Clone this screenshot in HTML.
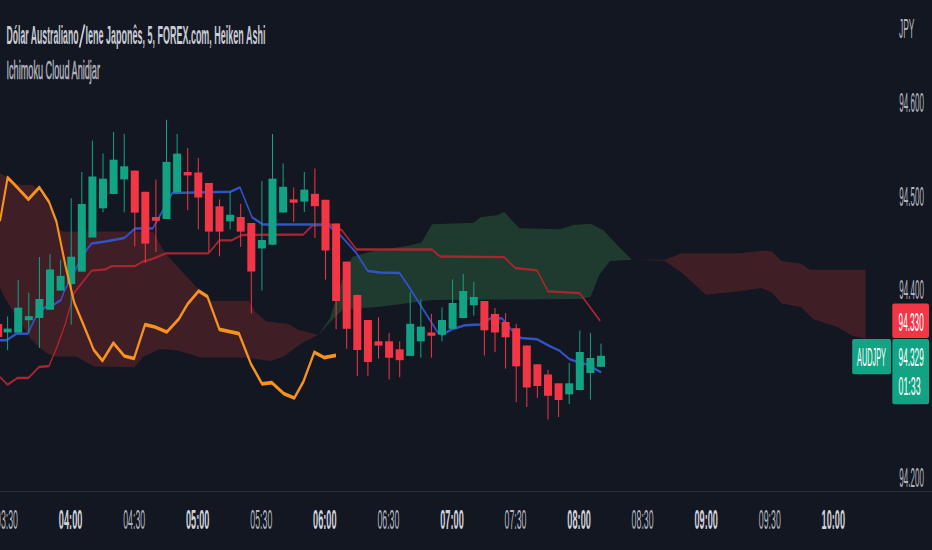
<!DOCTYPE html>
<html><head><meta charset="utf-8"><style>
html,body{margin:0;padding:0;background:#131722;width:932px;height:550px;overflow:hidden}
svg{display:block}
</style></head><body>
<svg width="932" height="550" viewBox="0 0 932 550">
<rect width="932" height="550" fill="#131722"/>
<polygon points="0.0,173.0 8.0,178.0 17.0,184.0 22.0,185.0 33.0,185.0 43.6,197.0 52.3,212.5 59.0,230.0 63.2,231.6 152.7,231.6 165.8,254.0 196.3,287.0 203.0,291.6 211.8,301.0 249.0,301.0 255.4,311.8 266.3,321.6 288.0,323.8 299.0,330.0 318.5,335.0 318.5,335.0 312.0,338.0 301.2,343.4 283.8,356.5 270.7,360.9 244.5,357.6 222.7,357.6 200.0,357.4 190.0,354.0 174.5,350.0 160.0,349.0 143.6,356.4 134.5,367.3 94.5,366.4 85.5,361.8 76.4,356.4 54.5,356.4 47.0,353.6 38.0,346.0 31.0,339.0 20.0,322.0 11.0,308.0 5.5,299.0 0.0,288.0" fill="#3f1e26"/>
<polygon points="318.5,335.0 330.0,318.0 342.0,280.0 352.0,257.0 371.0,251.5 409.2,245.6 421.5,242.6 432.0,224.3 473.8,222.7 480.3,217.3 497.8,215.0 504.3,211.8 510.9,219.4 519.6,228.2 560.0,229.3 573.0,224.9 590.5,223.8 603.6,230.3 616.7,244.5 632.0,259.8 632.0,259.8 610.0,260.9 599.3,275.0 590.5,296.9 580.0,299.0 432.3,300.0 380.0,306.7 342.7,309.6 329.6,322.7 318.5,335.0" fill="#1f3a2e"/>
<polygon points="632.0,259.8 664.7,259.8 682.0,253.2 740.0,253.2 762.7,250.5 771.4,251.4 781.9,261.0 801.0,263.6 809.8,269.7 865.5,269.7 865.5,338.5 851.7,335.8 837.7,327.1 813.3,319.3 801.0,307.0 781.9,303.6 771.4,292.2 761.0,287.9 740.0,291.3 706.0,294.7 682.0,272.9 664.7,261.0 632.0,259.8" fill="#3f1e26"/>
<g transform="scale(0.55,1)"><polyline points="0.00,377.0 13.82,384.7 31.64,378.0 51.64,378.0 70.91,367.0 89.09,366.0 103.09,347.6 118.91,323.6 134.55,293.0 166.36,270.7 191.64,269.4 203.64,266.2 245.45,266.2 257.82,262.0 277.64,258.9 301.45,253.4 379.09,253.4 398.91,240.3 420.73,240.3 440.55,235.0 551.64,234.5 567.27,225.7 601.09,224.3 621.82,230.4 648.36,249.5 785.45,249.5 800.00,256.5 916.91,257.2 936.73,268.0 976.36,270.3 996.36,291.4 1053.82,293.2 1091.45,321.0" fill="none" stroke="#a82630" stroke-width="2.3" stroke-linejoin="round"/></g>
<g transform="scale(0.55,1)"><polyline points="0.00,340.3 11.82,340.3 29.82,333.8 50.55,333.8 65.45,316.4 81.27,307.6 97.09,304.9 110.91,300.0 116.36,291.6 138.18,268.4 158.55,249.0 166.55,243.6 191.64,241.6 226.00,238.0 245.82,228.4 277.64,228.4 295.45,211.0 313.27,193.0 418.73,191.8 436.36,187.4 458.55,217.4 478.18,224.5 583.45,224.4 599.64,226.5 619.09,235.5 646.91,252.3 668.73,270.9 690.91,272.4 726.55,272.9 742.55,286.0 796.00,332.5 804.00,334.7 821.82,329.3 845.45,325.3 873.27,324.5 893.09,318.0 912.73,318.4 928.91,329.3 947.27,338.0 976.36,339.3 998.18,345.7 1016.91,350.6 1036.00,359.3 1045.45,361.0 1067.09,364.5 1093.09,372.3" fill="none" stroke="#3252c8" stroke-width="2.5" stroke-linejoin="round"/></g>
<rect x="-2.3" y="324.0" width="1" height="13.0" fill="#f23645"/>
<rect x="-5.8" y="324.0" width="8.0" height="13.0" fill="#f23645"/>
<rect x="7.1" y="316.4" width="1" height="33.8" fill="#12a384"/>
<rect x="3.6" y="328.6" width="8.0" height="3.8" fill="#12a384"/>
<rect x="17.7" y="280.0" width="1" height="52.7" fill="#12a384"/>
<rect x="14.2" y="307.7" width="8.0" height="25.0" fill="#12a384"/>
<rect x="28.3" y="292.7" width="1" height="40.2" fill="#12a384"/>
<rect x="24.8" y="316.2" width="8.0" height="4.0" fill="#12a384"/>
<rect x="38.9" y="257.0" width="1" height="91.0" fill="#12a384"/>
<rect x="35.4" y="299.0" width="8.0" height="19.0" fill="#12a384"/>
<rect x="49.5" y="254.3" width="1" height="55.4" fill="#12a384"/>
<rect x="46.0" y="269.5" width="8.0" height="40.2" fill="#12a384"/>
<rect x="60.1" y="259.8" width="1" height="30.8" fill="#12a384"/>
<rect x="56.6" y="275.9" width="8.0" height="14.7" fill="#12a384"/>
<rect x="70.7" y="198.3" width="1" height="126.2" fill="#12a384"/>
<rect x="67.2" y="256.7" width="8.0" height="27.4" fill="#12a384"/>
<rect x="81.3" y="172.0" width="1" height="99.6" fill="#12a384"/>
<rect x="77.8" y="204.0" width="8.0" height="67.6" fill="#12a384"/>
<rect x="91.9" y="140.5" width="1" height="97.0" fill="#12a384"/>
<rect x="88.4" y="176.5" width="8.0" height="61.0" fill="#12a384"/>
<rect x="102.5" y="153.6" width="1" height="58.6" fill="#12a384"/>
<rect x="99.0" y="178.7" width="8.0" height="29.6" fill="#12a384"/>
<rect x="113.1" y="131.8" width="1" height="62.2" fill="#12a384"/>
<rect x="109.6" y="159.7" width="8.0" height="34.3" fill="#12a384"/>
<rect x="123.7" y="134.0" width="1" height="78.4" fill="#12a384"/>
<rect x="120.2" y="166.3" width="8.0" height="13.1" fill="#12a384"/>
<rect x="134.3" y="170.6" width="1" height="75.9" fill="#f23645"/>
<rect x="130.8" y="170.6" width="8.0" height="42.0" fill="#f23645"/>
<rect x="144.8" y="191.8" width="1" height="71.2" fill="#f23645"/>
<rect x="141.3" y="191.8" width="8.0" height="51.8" fill="#f23645"/>
<rect x="155.4" y="179.4" width="1" height="72.6" fill="#f23645"/>
<rect x="151.9" y="217.0" width="8.0" height="3.8" fill="#f23645"/>
<rect x="166.0" y="119.8" width="1" height="99.2" fill="#12a384"/>
<rect x="162.5" y="161.9" width="8.0" height="57.1" fill="#12a384"/>
<rect x="176.6" y="134.0" width="1" height="58.4" fill="#12a384"/>
<rect x="173.1" y="153.6" width="8.0" height="38.8" fill="#12a384"/>
<rect x="187.2" y="148.0" width="1" height="62.0" fill="#f23645"/>
<rect x="183.7" y="172.0" width="8.0" height="3.4" fill="#f23645"/>
<rect x="197.8" y="158.0" width="1" height="71.4" fill="#f23645"/>
<rect x="194.3" y="172.5" width="8.0" height="25.0" fill="#f23645"/>
<rect x="208.4" y="183.0" width="1" height="69.3" fill="#f23645"/>
<rect x="204.9" y="183.0" width="8.0" height="48.6" fill="#f23645"/>
<rect x="219.0" y="199.4" width="1" height="56.9" fill="#f23645"/>
<rect x="215.5" y="206.3" width="8.0" height="25.3" fill="#f23645"/>
<rect x="229.6" y="191.8" width="1" height="37.6" fill="#12a384"/>
<rect x="226.1" y="214.8" width="8.0" height="6.5" fill="#12a384"/>
<rect x="240.2" y="203.8" width="1" height="43.1" fill="#f23645"/>
<rect x="236.7" y="217.0" width="8.0" height="14.6" fill="#f23645"/>
<rect x="250.8" y="223.0" width="1" height="90.4" fill="#f23645"/>
<rect x="247.3" y="223.0" width="8.0" height="48.5" fill="#f23645"/>
<rect x="261.4" y="180.9" width="1" height="109.6" fill="#12a384"/>
<rect x="257.9" y="240.0" width="8.0" height="8.4" fill="#12a384"/>
<rect x="272.0" y="134.0" width="1" height="110.7" fill="#12a384"/>
<rect x="268.5" y="178.7" width="8.0" height="66.0" fill="#12a384"/>
<rect x="282.6" y="163.4" width="1" height="49.1" fill="#12a384"/>
<rect x="279.1" y="186.8" width="8.0" height="25.7" fill="#12a384"/>
<rect x="293.2" y="187.4" width="1" height="34.4" fill="#f23645"/>
<rect x="289.7" y="199.4" width="8.0" height="3.3" fill="#f23645"/>
<rect x="303.8" y="172.0" width="1" height="40.0" fill="#12a384"/>
<rect x="300.3" y="189.6" width="8.0" height="12.0" fill="#12a384"/>
<rect x="314.4" y="168.5" width="1" height="69.5" fill="#f23645"/>
<rect x="310.9" y="193.8" width="8.0" height="12.4" fill="#f23645"/>
<rect x="325.0" y="199.8" width="1" height="79.8" fill="#f23645"/>
<rect x="321.5" y="199.8" width="8.0" height="50.7" fill="#f23645"/>
<rect x="335.6" y="223.5" width="1" height="105.8" fill="#f23645"/>
<rect x="332.1" y="223.5" width="8.0" height="77.5" fill="#f23645"/>
<rect x="346.2" y="261.6" width="1" height="87.3" fill="#f23645"/>
<rect x="342.7" y="261.6" width="8.0" height="67.2" fill="#f23645"/>
<rect x="356.8" y="294.9" width="1" height="81.3" fill="#f23645"/>
<rect x="353.3" y="294.9" width="8.0" height="55.1" fill="#f23645"/>
<rect x="367.4" y="320.0" width="1" height="56.2" fill="#f23645"/>
<rect x="363.9" y="320.0" width="8.0" height="42.0" fill="#f23645"/>
<rect x="378.0" y="317.3" width="1" height="41.4" fill="#f23645"/>
<rect x="374.5" y="341.3" width="8.0" height="4.3" fill="#f23645"/>
<rect x="388.6" y="333.0" width="1" height="46.4" fill="#f23645"/>
<rect x="385.1" y="341.3" width="8.0" height="16.5" fill="#f23645"/>
<rect x="399.2" y="341.3" width="1" height="35.9" fill="#f23645"/>
<rect x="395.7" y="349.3" width="8.0" height="10.9" fill="#f23645"/>
<rect x="409.7" y="292.3" width="1" height="63.6" fill="#12a384"/>
<rect x="406.2" y="323.8" width="8.0" height="32.1" fill="#12a384"/>
<rect x="420.3" y="299.5" width="1" height="58.1" fill="#12a384"/>
<rect x="416.8" y="326.6" width="8.0" height="14.7" fill="#12a384"/>
<rect x="430.9" y="314.0" width="1" height="43.6" fill="#f23645"/>
<rect x="427.4" y="332.5" width="8.0" height="3.3" fill="#f23645"/>
<rect x="441.5" y="307.4" width="1" height="33.9" fill="#12a384"/>
<rect x="438.0" y="320.0" width="8.0" height="14.7" fill="#12a384"/>
<rect x="452.1" y="279.4" width="1" height="49.4" fill="#12a384"/>
<rect x="448.6" y="303.0" width="8.0" height="25.8" fill="#12a384"/>
<rect x="462.7" y="274.0" width="1" height="44.0" fill="#12a384"/>
<rect x="459.2" y="291.0" width="8.0" height="27.0" fill="#12a384"/>
<rect x="473.3" y="281.6" width="1" height="34.1" fill="#12a384"/>
<rect x="469.8" y="297.0" width="8.0" height="8.3" fill="#12a384"/>
<rect x="483.9" y="301.0" width="1" height="54.4" fill="#f23645"/>
<rect x="480.4" y="301.0" width="8.0" height="29.3" fill="#f23645"/>
<rect x="494.5" y="308.0" width="1" height="44.2" fill="#f23645"/>
<rect x="491.0" y="314.0" width="8.0" height="18.5" fill="#f23645"/>
<rect x="505.1" y="313.0" width="1" height="55.7" fill="#f23645"/>
<rect x="501.6" y="322.0" width="8.0" height="15.3" fill="#f23645"/>
<rect x="515.7" y="323.8" width="1" height="78.2" fill="#f23645"/>
<rect x="512.2" y="328.2" width="8.0" height="38.1" fill="#f23645"/>
<rect x="526.3" y="345.5" width="1" height="61.5" fill="#f23645"/>
<rect x="522.8" y="345.5" width="8.0" height="42.0" fill="#f23645"/>
<rect x="536.9" y="364.3" width="1" height="33.7" fill="#f23645"/>
<rect x="533.4" y="364.3" width="8.0" height="21.7" fill="#f23645"/>
<rect x="547.5" y="369.8" width="1" height="49.7" fill="#f23645"/>
<rect x="544.0" y="374.5" width="8.0" height="21.3" fill="#f23645"/>
<rect x="558.1" y="383.3" width="1" height="33.7" fill="#f23645"/>
<rect x="554.6" y="383.3" width="8.0" height="16.7" fill="#f23645"/>
<rect x="568.7" y="363.0" width="1" height="41.0" fill="#12a384"/>
<rect x="565.2" y="383.3" width="8.0" height="11.0" fill="#12a384"/>
<rect x="579.3" y="330.5" width="1" height="59.5" fill="#12a384"/>
<rect x="575.8" y="352.0" width="8.0" height="38.0" fill="#12a384"/>
<rect x="589.9" y="333.0" width="1" height="66.6" fill="#12a384"/>
<rect x="586.4" y="358.0" width="8.0" height="15.0" fill="#12a384"/>
<rect x="600.5" y="343.6" width="1" height="23.2" fill="#12a384"/>
<rect x="597.0" y="355.8" width="8.0" height="11.0" fill="#12a384"/>
<g transform="scale(0.55,1)"><polyline points="0.00,221.0 13.82,177.6 25.45,184.0 51.64,199.4 71.45,187.4 89.09,202.0 102.73,221.8 118.91,265.4 134.91,302.5 150.91,323.6 170.55,350.0 186.36,360.7 206.18,343.0 226.00,356.0 243.64,358.5 263.64,324.7 281.82,327.0 303.27,332.0 325.09,319.0 341.09,304.0 361.27,291.0 377.09,296.5 398.91,329.3 434.55,333.6 456.36,364.0 476.36,383.8 494.18,382.7 516.00,393.6 535.09,398.0 551.64,381.6 571.45,352.2 589.09,357.6 610.91,355.4" fill="none" stroke="#f6931e" stroke-width="3.7" stroke-linejoin="round"/></g>
<rect x="0" y="491" width="932" height="1" fill="#2a2e39"/>
<text x="6.5" y="44.2" font-family="Liberation Sans, sans-serif" font-size="26.5" fill="#c9ccd4" text-anchor="start" font-weight="bold" textLength="72" lengthAdjust="spacingAndGlyphs">Dólar Australiano</text>
<line x1="79.6" y1="47.5" x2="84.6" y2="24.5" stroke="#c9ccd4" stroke-width="1.7"/>
<text x="85.6" y="44.2" font-family="Liberation Sans, sans-serif" font-size="26.5" fill="#c9ccd4" text-anchor="start" font-weight="bold" textLength="179.8" lengthAdjust="spacingAndGlyphs">Iene Japonês, 5, FOREX.com, Heiken Ashi</text>
<text x="6.5" y="79.3" font-family="Liberation Sans, sans-serif" font-size="26.5" fill="#b2b5be" text-anchor="start" font-weight="normal" textLength="93.5" lengthAdjust="spacingAndGlyphs" stroke="#b2b5be" stroke-width="0.6">Ichimoku Cloud Anidjar</text>
<text x="899.3" y="112.1" font-family="Liberation Sans, sans-serif" font-size="28" fill="#b2b5be" text-anchor="start" font-weight="normal" textLength="24.7" lengthAdjust="spacingAndGlyphs">94.600</text>
<text x="899.3" y="205.7799999999947" font-family="Liberation Sans, sans-serif" font-size="28" fill="#b2b5be" text-anchor="start" font-weight="normal" textLength="24.7" lengthAdjust="spacingAndGlyphs">94.500</text>
<text x="899.3" y="299.45999999998935" font-family="Liberation Sans, sans-serif" font-size="28" fill="#b2b5be" text-anchor="start" font-weight="normal" textLength="24.7" lengthAdjust="spacingAndGlyphs">94.400</text>
<text x="899.3" y="486.81999999999204" font-family="Liberation Sans, sans-serif" font-size="28" fill="#b2b5be" text-anchor="start" font-weight="normal" textLength="24.7" lengthAdjust="spacingAndGlyphs">94.200</text>
<text x="899" y="38" font-family="Liberation Sans, sans-serif" font-size="28" fill="#b2b5be" text-anchor="start" font-weight="normal" textLength="15.5" lengthAdjust="spacingAndGlyphs">JPY</text>
<text x="7.0" y="529.2" font-family="Liberation Sans, sans-serif" font-size="28" fill="#b2b5be" text-anchor="middle" font-weight="normal" textLength="22" lengthAdjust="spacingAndGlyphs">03:30</text>
<text x="70.6" y="529.2" font-family="Liberation Sans, sans-serif" font-size="28" fill="#d1d4dc" text-anchor="middle" font-weight="bold" textLength="23.5" lengthAdjust="spacingAndGlyphs">04:00</text>
<text x="134.2" y="529.2" font-family="Liberation Sans, sans-serif" font-size="28" fill="#b2b5be" text-anchor="middle" font-weight="normal" textLength="22" lengthAdjust="spacingAndGlyphs">04:30</text>
<text x="197.7" y="529.2" font-family="Liberation Sans, sans-serif" font-size="28" fill="#d1d4dc" text-anchor="middle" font-weight="bold" textLength="23.5" lengthAdjust="spacingAndGlyphs">05:00</text>
<text x="261.3" y="529.2" font-family="Liberation Sans, sans-serif" font-size="28" fill="#b2b5be" text-anchor="middle" font-weight="normal" textLength="22" lengthAdjust="spacingAndGlyphs">05:30</text>
<text x="324.8" y="529.2" font-family="Liberation Sans, sans-serif" font-size="28" fill="#d1d4dc" text-anchor="middle" font-weight="bold" textLength="23.5" lengthAdjust="spacingAndGlyphs">06:00</text>
<text x="388.4" y="529.2" font-family="Liberation Sans, sans-serif" font-size="28" fill="#b2b5be" text-anchor="middle" font-weight="normal" textLength="22" lengthAdjust="spacingAndGlyphs">06:30</text>
<text x="452.0" y="529.2" font-family="Liberation Sans, sans-serif" font-size="28" fill="#d1d4dc" text-anchor="middle" font-weight="bold" textLength="23.5" lengthAdjust="spacingAndGlyphs">07:00</text>
<text x="515.5" y="529.2" font-family="Liberation Sans, sans-serif" font-size="28" fill="#b2b5be" text-anchor="middle" font-weight="normal" textLength="22" lengthAdjust="spacingAndGlyphs">07:30</text>
<text x="579.1" y="529.2" font-family="Liberation Sans, sans-serif" font-size="28" fill="#d1d4dc" text-anchor="middle" font-weight="bold" textLength="23.5" lengthAdjust="spacingAndGlyphs">08:00</text>
<text x="642.6" y="529.2" font-family="Liberation Sans, sans-serif" font-size="28" fill="#b2b5be" text-anchor="middle" font-weight="normal" textLength="22" lengthAdjust="spacingAndGlyphs">08:30</text>
<text x="706.2" y="529.2" font-family="Liberation Sans, sans-serif" font-size="28" fill="#d1d4dc" text-anchor="middle" font-weight="bold" textLength="23.5" lengthAdjust="spacingAndGlyphs">09:00</text>
<text x="769.8" y="529.2" font-family="Liberation Sans, sans-serif" font-size="28" fill="#b2b5be" text-anchor="middle" font-weight="normal" textLength="22" lengthAdjust="spacingAndGlyphs">09:30</text>
<text x="833.3" y="529.2" font-family="Liberation Sans, sans-serif" font-size="28" fill="#d1d4dc" text-anchor="middle" font-weight="bold" textLength="23.5" lengthAdjust="spacingAndGlyphs">10:00</text>
<rect x="892.3" y="303.4" width="36.7" height="34.5" rx="2" fill="#f23645"/>
<rect x="892.3" y="339" width="36.7" height="65.2" rx="2" fill="#12a384"/>
<rect x="852.2" y="339" width="38.8" height="35.2" rx="2" fill="#12a384"/>
<text x="898.6" y="330.6" font-family="Liberation Sans, sans-serif" font-size="26" fill="#ffffff" text-anchor="start" font-weight="normal" textLength="25.1" lengthAdjust="spacingAndGlyphs">94.330</text>
<text x="898.6" y="366.1" font-family="Liberation Sans, sans-serif" font-size="26" fill="#ffffff" text-anchor="start" font-weight="normal" textLength="25.1" lengthAdjust="spacingAndGlyphs">94.329</text>
<text x="898.6" y="395.4" font-family="Liberation Sans, sans-serif" font-size="26" fill="#ffffff" text-anchor="start" font-weight="normal" textLength="22" lengthAdjust="spacingAndGlyphs">01:33</text>
<text x="857" y="366" font-family="Liberation Sans, sans-serif" font-size="26" fill="#ffffff" text-anchor="start" font-weight="normal" textLength="29" lengthAdjust="spacingAndGlyphs">AUDJPY</text>
</svg>
</body></html>
